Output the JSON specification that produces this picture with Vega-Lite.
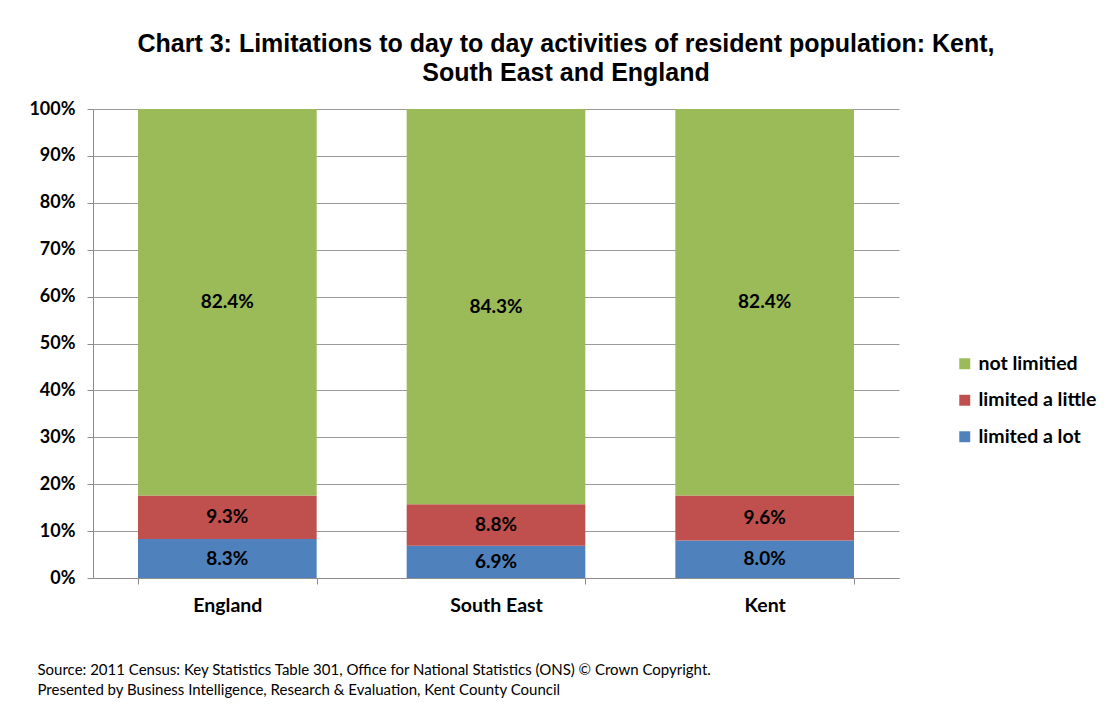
{
  "$schema": "https://vega.github.io/schema/vega-lite/v6.json",
  "width": 806,
  "height": 469,
  "autosize": {"type": "none"},
  "padding": {"left": 93, "top": 109, "right": 209, "bottom": 129},
  "background": "white",
  "title": {
    "text": ["Chart 3: Limitations to day to day activities of resident population: Kent,", "South East and England"],
    "font": "Liberation Sans",
    "fontSize": 25,
    "fontWeight": "bold",
    "color": "black",
    "anchor": "middle",
    "dx": 70,
    "offset": 14,
    "lineHeight": 29
  },
  "data": {
    "values": [
      {"area": "England", "limitation": "limited a lot", "rank": 1, "value": 0.083},
      {"area": "England", "limitation": "limited a little", "rank": 2, "value": 0.093},
      {"area": "England", "limitation": "not limitied", "rank": 3, "value": 0.824},
      {"area": "South East", "limitation": "limited a lot", "rank": 1, "value": 0.069},
      {"area": "South East", "limitation": "limited a little", "rank": 2, "value": 0.088},
      {"area": "South East", "limitation": "not limitied", "rank": 3, "value": 0.843},
      {"area": "Kent", "limitation": "limited a lot", "rank": 1, "value": 0.080},
      {"area": "Kent", "limitation": "limited a little", "rank": 2, "value": 0.096},
      {"area": "Kent", "limitation": "not limitied", "rank": 3, "value": 0.824}
    ]
  },
  "encoding": {
    "x": {
      "field": "area",
      "type": "nominal",
      "sort": ["England", "South East", "Kent"],
      "scale": {"paddingInner": 0.335, "paddingOuter": 0.1675},
      "axis": {
        "title": ["Source: 2011 Census: Key Statistics Table 301, Office for National Statistics (ONS) © Crown Copyright.", "Presented by Business Intelligence, Research & Evaluation, Kent County Council"],
        "titleFont": "Lato",
        "titleFontSize": 15,
        "titleFontWeight": "normal",
        "titleColor": "black",
        "titleAnchor": "start",
        "titleAlign": "left",
        "titleBaseline": "alphabetic",
        "titleX": -56,
        "titleY": 96,
        "titleLineHeight": 20,
        "labelAngle": 0,
        "labelFont": "Lato",
        "labelFontSize": 19.5,
        "labelFontWeight": "bold",
        "labelColor": "black",
        "labelPadding": 12,
        "tickBand": "extent",
        "tickSize": 6,
        "tickColor": "#8c8c8c",
        "domainColor": "#8c8c8c",
        "grid": false
      }
    },
    "y": {
      "field": "value",
      "type": "quantitative",
      "stack": "zero",
      "scale": {"domain": [0, 1], "nice": false},
      "axis": {
        "title": null,
        "values": [0, 0.1, 0.2, 0.3, 0.4, 0.5, 0.6, 0.7, 0.8, 0.9, 1],
        "format": ".0%",
        "labelFont": "Lato",
        "labelFontSize": 18,
        "labelFontWeight": "bold",
        "labelColor": "black",
        "labelPadding": 12,
        "tickSize": 6,
        "tickColor": "#8c8c8c",
        "domainColor": "#8c8c8c",
        "grid": true,
        "gridColor": "#9a9a9a",
        "gridWidth": 1
      }
    },
    "order": {"field": "rank", "type": "quantitative", "sort": "ascending"}
  },
  "layer": [
    {
      "mark": {"type": "bar"},
      "encoding": {
        "color": {
          "field": "limitation",
          "type": "nominal",
          "scale": {
            "domain": ["not limitied", "limited a little", "limited a lot"],
            "range": ["#9BBB59", "#C0504D", "#4F81BD"]
          },
          "legend": {
            "title": null,
            "orient": "none",
            "legendX": 862,
            "legendY": 245,
            "symbolType": "square",
            "symbolSize": 120,
            "symbolStrokeWidth": 0,
            "labelFont": "Lato",
            "labelFontSize": 19.5,
            "labelFontWeight": "bold",
            "labelColor": "black",
            "labelOffset": 4,
            "rowPadding": 15.5
          }
        }
      }
    },
    {
      "mark": {"type": "text", "font": "Lato", "fontSize": 19, "fontWeight": "bold", "color": "black", "baseline": "middle"},
      "encoding": {
        "y": {"field": "value", "type": "quantitative", "stack": "zero", "bandPosition": 0.5},
        "text": {"field": "value", "type": "quantitative", "format": ".1%"}
      }
    }
  ],
  "config": {
    "view": {"stroke": null}
  }
}
